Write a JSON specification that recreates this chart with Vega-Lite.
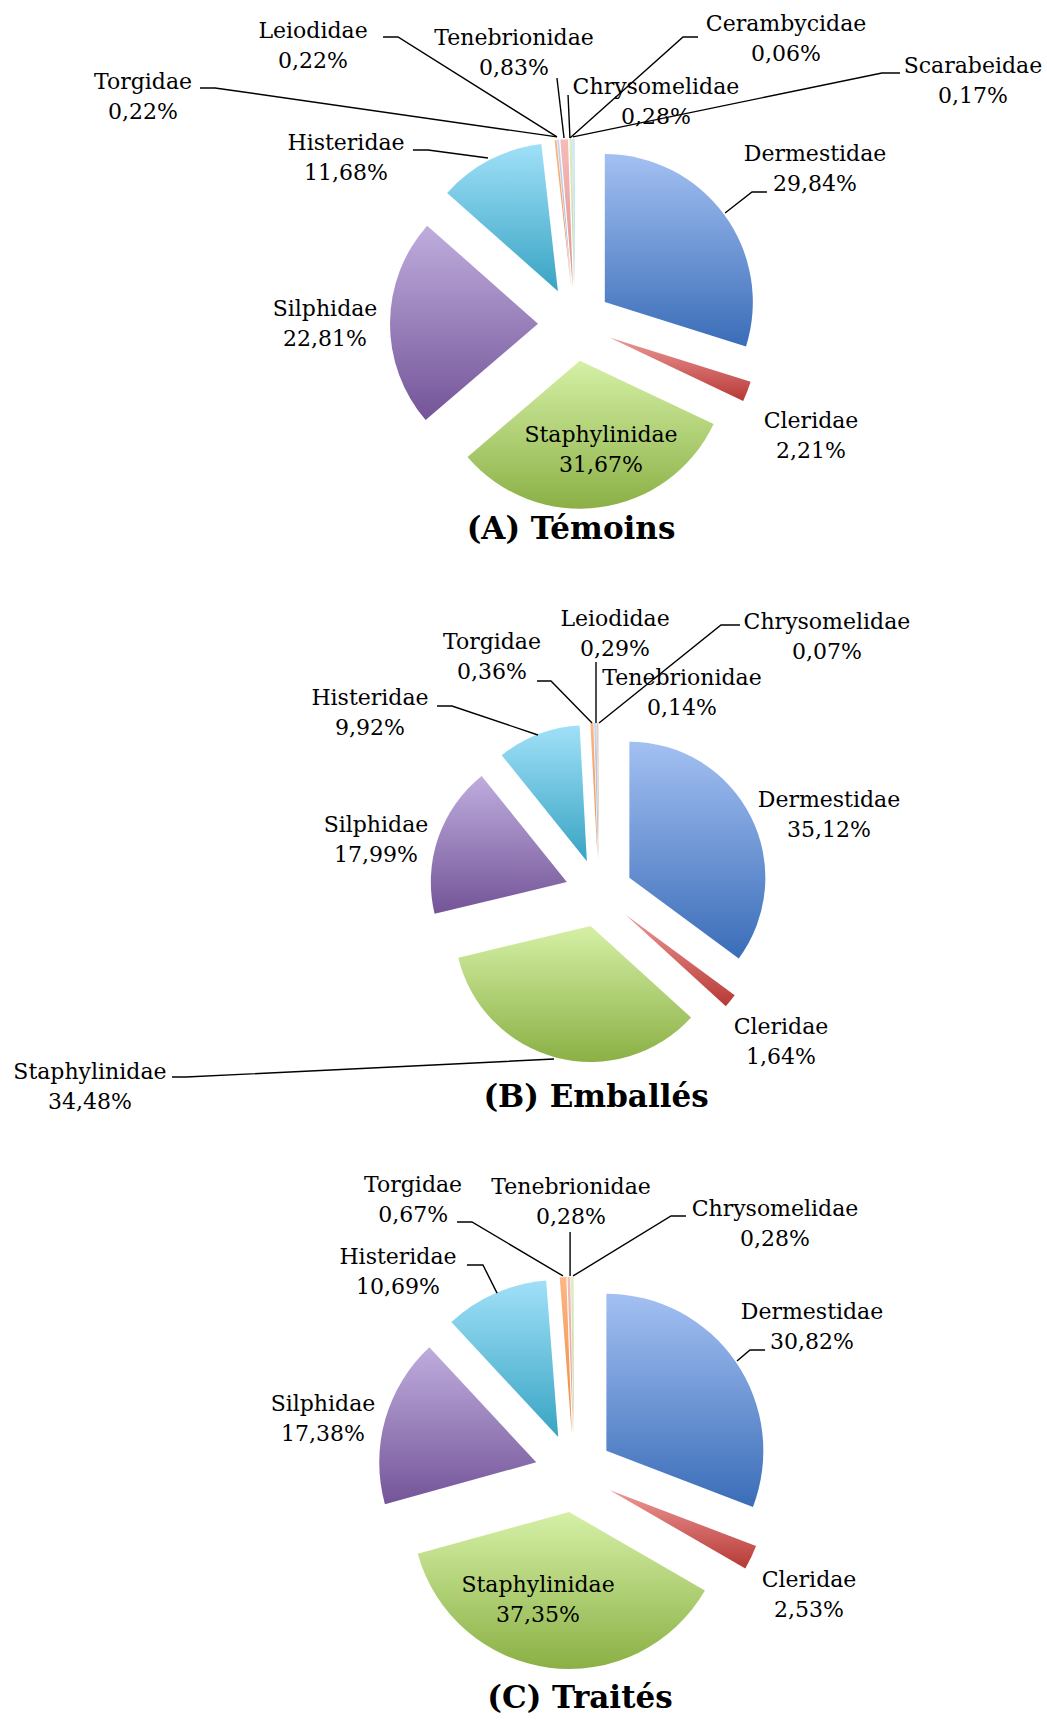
{
  "$schema": "https://vega.github.io/schema/vega-lite/v6.json",
  "background": "white",
  "padding": 0,
  "spacing": 0,
  "config": {
    "view": {"stroke": null},
    "locale": {"number": {"decimal": ",", "thousands": " ", "grouping": [3], "currency": ["", " €"]}},
    "text": {"font": "DejaVu Serif", "fontSize": 22, "color": "#000000"}
  },
  "resolve": {"scale": {"x": "independent", "y": "independent"}},
  "datasets": {
    "temoins": [
      {"family": "Dermestidae", "share": 0.2984},
      {"family": "Cleridae", "share": 0.0221},
      {"family": "Staphylinidae", "share": 0.3167},
      {"family": "Silphidae", "share": 0.2281},
      {"family": "Histeridae", "share": 0.1168},
      {"family": "Torgidae", "share": 0.0022},
      {"family": "Leiodidae", "share": 0.0022},
      {"family": "Tenebrionidae", "share": 0.0083},
      {"family": "Chrysomelidae", "share": 0.0028},
      {"family": "Cerambycidae", "share": 0.0006},
      {"family": "Scarabeidae", "share": 0.0017}
    ],
    "emballes": [
      {"family": "Dermestidae", "share": 0.3512},
      {"family": "Cleridae", "share": 0.0164},
      {"family": "Staphylinidae", "share": 0.3448},
      {"family": "Silphidae", "share": 0.1799},
      {"family": "Histeridae", "share": 0.0992},
      {"family": "Torgidae", "share": 0.0036},
      {"family": "Leiodidae", "share": 0.0029},
      {"family": "Tenebrionidae", "share": 0.0014},
      {"family": "Chrysomelidae", "share": 0.0007}
    ],
    "traites": [
      {"family": "Dermestidae", "share": 0.3082},
      {"family": "Cleridae", "share": 0.0253},
      {"family": "Staphylinidae", "share": 0.3735},
      {"family": "Silphidae", "share": 0.1738},
      {"family": "Histeridae", "share": 0.1069},
      {"family": "Torgidae", "share": 0.0067},
      {"family": "Tenebrionidae", "share": 0.0028},
      {"family": "Chrysomelidae", "share": 0.0028}
    ],
    "labelsA": [
      {"family": "Torgidae", "px": -2.919, "py": 1.534},
      {"family": "Leiodidae", "px": -1.770, "py": 1.878},
      {"family": "Tenebrionidae", "px": -0.412, "py": 1.828},
      {"family": "Chrysomelidae", "px": 0.547, "py": 1.500},
      {"family": "Cerambycidae", "px": 1.426, "py": 1.929},
      {"family": "Scarabeidae", "px": 2.689, "py": 1.639},
      {"family": "Histeridae", "px": -1.547, "py": 1.122},
      {"family": "Dermestidae", "px": 1.622, "py": 1.047},
      {"family": "Silphidae", "px": -1.689, "py": 0.000},
      {"family": "Staphylinidae", "px": 0.176, "py": -0.851},
      {"family": "Cleridae", "px": 1.595, "py": -0.757}
    ],
    "leadersA": [
      {"family": "Torgidae", "step": 0, "px": -2.534, "py": 1.595},
      {"family": "Torgidae", "step": 1, "px": -2.432, "py": 1.595},
      {"family": "Torgidae", "step": 2, "px": -0.122, "py": 1.264},
      {"family": "Leiodidae", "step": 0, "px": -1.297, "py": 1.939},
      {"family": "Leiodidae", "step": 1, "px": -1.196, "py": 1.939},
      {"family": "Leiodidae", "step": 2, "px": -0.122, "py": 1.264},
      {"family": "Tenebrionidae", "step": 0, "px": -0.122, "py": 1.662},
      {"family": "Tenebrionidae", "step": 1, "px": -0.074, "py": 1.257},
      {"family": "Chrysomelidae", "step": 0, "px": -0.047, "py": 1.547},
      {"family": "Chrysomelidae", "step": 1, "px": -0.034, "py": 1.257},
      {"family": "Cerambycidae", "step": 0, "px": 0.831, "py": 1.939},
      {"family": "Cerambycidae", "step": 1, "px": 0.730, "py": 1.939},
      {"family": "Cerambycidae", "step": 2, "px": -0.034, "py": 1.257},
      {"family": "Scarabeidae", "step": 0, "px": 2.196, "py": 1.696},
      {"family": "Scarabeidae", "step": 1, "px": 2.074, "py": 1.696},
      {"family": "Scarabeidae", "step": 2, "px": -0.014, "py": 1.264},
      {"family": "Histeridae", "step": 0, "px": -1.095, "py": 1.176},
      {"family": "Histeridae", "step": 1, "px": -0.993, "py": 1.176},
      {"family": "Histeridae", "step": 2, "px": -0.588, "py": 1.122},
      {"family": "Dermestidae", "step": 0, "px": 1.297, "py": 0.892},
      {"family": "Dermestidae", "step": 1, "px": 1.196, "py": 0.892},
      {"family": "Dermestidae", "step": 2, "px": 1.014, "py": 0.750}
    ],
    "labelsB": [
      {"family": "Leiodidae", "px": 0.118, "py": 1.908},
      {"family": "Chrysomelidae", "px": 1.676, "py": 1.886},
      {"family": "Torgidae", "px": -0.787, "py": 1.732},
      {"family": "Tenebrionidae", "px": 0.610, "py": 1.474},
      {"family": "Histeridae", "px": -1.684, "py": 1.320},
      {"family": "Silphidae", "px": -1.640, "py": 0.393},
      {"family": "Dermestidae", "px": 1.691, "py": 0.570},
      {"family": "Cleridae", "px": 1.338, "py": -1.092},
      {"family": "Staphylinidae", "px": -3.743, "py": -1.430}
    ],
    "leadersB": [
      {"family": "Torgidae", "step": 0, "px": -0.456, "py": 1.559},
      {"family": "Torgidae", "step": 1, "px": -0.353, "py": 1.559},
      {"family": "Torgidae", "step": 2, "px": -0.051, "py": 1.250},
      {"family": "Leiodidae", "step": 0, "px": -0.022, "py": 1.699},
      {"family": "Leiodidae", "step": 1, "px": -0.022, "py": 1.250},
      {"family": "Chrysomelidae", "step": 0, "px": 1.037, "py": 1.971},
      {"family": "Chrysomelidae", "step": 1, "px": 0.897, "py": 1.971},
      {"family": "Chrysomelidae", "step": 2, "px": 0.000, "py": 1.250},
      {"family": "Histeridae", "step": 0, "px": -1.191, "py": 1.375},
      {"family": "Histeridae", "step": 1, "px": -1.081, "py": 1.375},
      {"family": "Histeridae", "step": 2, "px": -0.449, "py": 1.162},
      {"family": "Staphylinidae", "step": 0, "px": -3.140, "py": -1.353},
      {"family": "Staphylinidae", "step": 1, "px": -3.037, "py": -1.353},
      {"family": "Staphylinidae", "step": 2, "px": -0.331, "py": -1.221}
    ],
    "labelsC": [
      {"family": "Torgidae", "px": -1.025, "py": 1.739},
      {"family": "Tenebrionidae", "px": -0.019, "py": 1.726},
      {"family": "Chrysomelidae", "px": 1.280, "py": 1.589},
      {"family": "Histeridae", "px": -1.121, "py": 1.283},
      {"family": "Dermestidae", "px": 1.516, "py": 0.927},
      {"family": "Silphidae", "px": -1.599, "py": 0.347},
      {"family": "Staphylinidae", "px": -0.229, "py": -0.812},
      {"family": "Cleridae", "px": 1.497, "py": -0.777}
    ],
    "leadersC": [
      {"family": "Torgidae", "step": 0, "px": -0.745, "py": 1.599},
      {"family": "Torgidae", "step": 1, "px": -0.650, "py": 1.599},
      {"family": "Torgidae", "step": 2, "px": -0.070, "py": 1.255},
      {"family": "Tenebrionidae", "step": 0, "px": -0.025, "py": 1.535},
      {"family": "Tenebrionidae", "step": 1, "px": -0.025, "py": 1.255},
      {"family": "Chrysomelidae", "step": 0, "px": 0.713, "py": 1.637},
      {"family": "Chrysomelidae", "step": 1, "px": 0.618, "py": 1.637},
      {"family": "Chrysomelidae", "step": 2, "px": -0.006, "py": 1.255},
      {"family": "Histeridae", "step": 0, "px": -0.682, "py": 1.325},
      {"family": "Histeridae", "step": 1, "px": -0.580, "py": 1.325},
      {"family": "Histeridae", "step": 2, "px": -0.490, "py": 1.146},
      {"family": "Dermestidae", "step": 0, "px": 1.217, "py": 0.783},
      {"family": "Dermestidae", "step": 1, "px": 1.121, "py": 0.783},
      {"family": "Dermestidae", "step": 2, "px": 1.038, "py": 0.713}
    ],
    "panelTitles": [
      {"panel": "(A) Témoins", "group": "A", "px": -0.027, "py": -1.392},
      {"panel": "(B) Emballés", "group": "B", "px": -0.022, "py": -1.507},
      {"panel": "(C) Traités", "group": "C", "px": 0.038, "py": -1.439}
    ]
  },
  "vconcat": [
    {
      "width": 1047,
      "height": 565,
      "encoding": {
        "x": {"field": "px", "type": "quantitative", "axis": null, "scale": {"domain": [-3.8851, 3.1892], "nice": false, "zero": false}},
        "y": {"field": "py", "type": "quantitative", "axis": null, "scale": {"domain": [-1.6284, 2.1892], "nice": false, "zero": false}}
      },
      "layer": [
        {
          "data": {"name": "temoins"},
          "transform": [
            {"stack": "share", "groupby": [], "as": ["t0", "t1"]},
            {"calculate": "(datum.t0 + datum.t1) * PI", "as": "mid"},
            {"calculate": "0.25 * sin(datum.mid)", "as": "px"},
            {"calculate": "0.25 * cos(datum.mid)", "as": "py"}
          ],
          "mark": {"type": "arc", "radius": 148},
          "encoding": {
            "theta": {"field": "t0", "type": "quantitative", "scale": {"domain": [0, 1], "range": [0, 6.283185307179586]}},
            "theta2": {"field": "t1"},
            "fill": {
              "condition": [
                {"test": "datum.family === 'Dermestidae'", "value": {"gradient": "linear", "x1": 0, "y1": 0, "x2": 0, "y2": 1, "stops": [{"offset": 0, "color": "#a3c0f2"}, {"offset": 1, "color": "#3a6db8"}]}},
                {"test": "datum.family === 'Cleridae'", "value": {"gradient": "linear", "x1": 0, "y1": 0, "x2": 0, "y2": 1, "stops": [{"offset": 0, "color": "#ec9896"}, {"offset": 1, "color": "#b73936"}]}},
                {"test": "datum.family === 'Staphylinidae'", "value": {"gradient": "linear", "x1": 0, "y1": 0, "x2": 0, "y2": 1, "stops": [{"offset": 0, "color": "#d5f0a6"}, {"offset": 1, "color": "#8bb045"}]}},
                {"test": "datum.family === 'Silphidae'", "value": {"gradient": "linear", "x1": 0, "y1": 0, "x2": 0, "y2": 1, "stops": [{"offset": 0, "color": "#bfaddd"}, {"offset": 1, "color": "#735498"}]}},
                {"test": "datum.family === 'Histeridae'", "value": {"gradient": "linear", "x1": 0, "y1": 0, "x2": 0, "y2": 1, "stops": [{"offset": 0, "color": "#a0e0f8"}, {"offset": 1, "color": "#38a4c3"}]}},
                {"test": "datum.family === 'Torgidae'", "value": {"gradient": "linear", "x1": 0, "y1": 0, "x2": 0, "y2": 1, "stops": [{"offset": 0, "color": "#fbb885"}, {"offset": 1, "color": "#ee873a"}]}},
                {"test": "datum.family === 'Leiodidae'", "value": {"gradient": "linear", "x1": 0, "y1": 0, "x2": 0, "y2": 1, "stops": [{"offset": 0, "color": "#c8d8f4"}, {"offset": 1, "color": "#8ba7da"}]}},
                {"test": "datum.family === 'Tenebrionidae'", "value": {"gradient": "linear", "x1": 0, "y1": 0, "x2": 0, "y2": 1, "stops": [{"offset": 0, "color": "#f5bcba"}, {"offset": 1, "color": "#e08f8c"}]}},
                {"test": "datum.family === 'Chrysomelidae'", "value": {"gradient": "linear", "x1": 0, "y1": 0, "x2": 0, "y2": 1, "stops": [{"offset": 0, "color": "#def0c4"}, {"offset": 1, "color": "#b3ce88"}]}},
                {"test": "datum.family === 'Cerambycidae'", "value": {"gradient": "linear", "x1": 0, "y1": 0, "x2": 0, "y2": 1, "stops": [{"offset": 0, "color": "#d2c8e6"}, {"offset": 1, "color": "#a794c6"}]}}
              ],
              "value": {"gradient": "linear", "x1": 0, "y1": 0, "x2": 0, "y2": 1, "stops": [{"offset": 0, "color": "#c4e9f6"}, {"offset": 1, "color": "#84c9df"}]}
            }
          }
        },
        {
          "data": {"name": "leadersA"},
          "mark": {"type": "line", "stroke": "#000000", "strokeWidth": 1.4},
          "encoding": {"detail": {"field": "family", "type": "nominal"}, "order": {"field": "step", "type": "ordinal"}}
        },
        {
          "data": {"name": "labelsA"},
          "transform": [{"lookup": "family", "from": {"data": {"name": "temoins"}, "key": "family", "fields": ["share"]}}],
          "mark": {"type": "text", "dy": -15},
          "encoding": {"text": {"field": "family", "type": "nominal"}}
        },
        {
          "data": {"name": "labelsA"},
          "transform": [{"lookup": "family", "from": {"data": {"name": "temoins"}, "key": "family", "fields": ["share"]}}],
          "mark": {"type": "text", "dy": 15},
          "encoding": {"text": {"field": "share", "type": "quantitative", "format": ".2%"}}
        },
        {
          "data": {"name": "panelTitles"},
          "transform": [{"filter": "datum.group === 'A'"}],
          "mark": {"type": "text", "fontSize": 31, "fontWeight": "bold"},
          "encoding": {"text": {"field": "panel", "type": "nominal"}}
        }
      ]
    },
    {
      "width": 1047,
      "height": 575,
      "encoding": {
        "x": {"field": "px", "type": "quantitative", "axis": null, "scale": {"domain": [-4.4044, 3.2941], "nice": false, "zero": false}},
        "y": {"field": "py", "type": "quantitative", "axis": null, "scale": {"domain": [-1.8162, 2.4118], "nice": false, "zero": false}}
      },
      "layer": [
        {
          "data": {"name": "emballes"},
          "transform": [
            {"stack": "share", "groupby": [], "as": ["t0", "t1"]},
            {"calculate": "(datum.t0 + datum.t1) * PI", "as": "mid"},
            {"calculate": "0.25 * sin(datum.mid)", "as": "px"},
            {"calculate": "0.25 * cos(datum.mid)", "as": "py"}
          ],
          "mark": {"type": "arc", "radius": 136},
          "encoding": {
            "theta": {"field": "t0", "type": "quantitative", "scale": {"domain": [0, 1], "range": [0, 6.283185307179586]}},
            "theta2": {"field": "t1"},
            "fill": {
              "condition": [
                {"test": "datum.family === 'Dermestidae'", "value": {"gradient": "linear", "x1": 0, "y1": 0, "x2": 0, "y2": 1, "stops": [{"offset": 0, "color": "#a3c0f2"}, {"offset": 1, "color": "#3a6db8"}]}},
                {"test": "datum.family === 'Cleridae'", "value": {"gradient": "linear", "x1": 0, "y1": 0, "x2": 0, "y2": 1, "stops": [{"offset": 0, "color": "#ec9896"}, {"offset": 1, "color": "#b73936"}]}},
                {"test": "datum.family === 'Staphylinidae'", "value": {"gradient": "linear", "x1": 0, "y1": 0, "x2": 0, "y2": 1, "stops": [{"offset": 0, "color": "#d5f0a6"}, {"offset": 1, "color": "#8bb045"}]}},
                {"test": "datum.family === 'Silphidae'", "value": {"gradient": "linear", "x1": 0, "y1": 0, "x2": 0, "y2": 1, "stops": [{"offset": 0, "color": "#bfaddd"}, {"offset": 1, "color": "#735498"}]}},
                {"test": "datum.family === 'Histeridae'", "value": {"gradient": "linear", "x1": 0, "y1": 0, "x2": 0, "y2": 1, "stops": [{"offset": 0, "color": "#a0e0f8"}, {"offset": 1, "color": "#38a4c3"}]}},
                {"test": "datum.family === 'Torgidae'", "value": {"gradient": "linear", "x1": 0, "y1": 0, "x2": 0, "y2": 1, "stops": [{"offset": 0, "color": "#fbb885"}, {"offset": 1, "color": "#ee873a"}]}},
                {"test": "datum.family === 'Leiodidae'", "value": {"gradient": "linear", "x1": 0, "y1": 0, "x2": 0, "y2": 1, "stops": [{"offset": 0, "color": "#c8d8f4"}, {"offset": 1, "color": "#8ba7da"}]}},
                {"test": "datum.family === 'Tenebrionidae'", "value": {"gradient": "linear", "x1": 0, "y1": 0, "x2": 0, "y2": 1, "stops": [{"offset": 0, "color": "#f5bcba"}, {"offset": 1, "color": "#e08f8c"}]}}
              ],
              "value": {"gradient": "linear", "x1": 0, "y1": 0, "x2": 0, "y2": 1, "stops": [{"offset": 0, "color": "#def0c4"}, {"offset": 1, "color": "#b3ce88"}]}
            }
          }
        },
        {
          "data": {"name": "leadersB"},
          "mark": {"type": "line", "stroke": "#000000", "strokeWidth": 1.4},
          "encoding": {"detail": {"field": "family", "type": "nominal"}, "order": {"field": "step", "type": "ordinal"}}
        },
        {
          "data": {"name": "labelsB"},
          "transform": [{"lookup": "family", "from": {"data": {"name": "emballes"}, "key": "family", "fields": ["share"]}}],
          "mark": {"type": "text", "dy": -15},
          "encoding": {"text": {"field": "family", "type": "nominal"}}
        },
        {
          "data": {"name": "labelsB"},
          "transform": [{"lookup": "family", "from": {"data": {"name": "emballes"}, "key": "family", "fields": ["share"]}}],
          "mark": {"type": "text", "dy": 15},
          "encoding": {"text": {"field": "share", "type": "quantitative", "format": ".2%"}}
        },
        {
          "data": {"name": "panelTitles"},
          "transform": [{"filter": "datum.group === 'B'"}],
          "mark": {"type": "text", "fontSize": 31, "fontWeight": "bold"},
          "encoding": {"text": {"field": "panel", "type": "nominal"}}
        }
      ]
    },
    {
      "width": 1047,
      "height": 580,
      "encoding": {
        "x": {"field": "px", "type": "quantitative", "axis": null, "scale": {"domain": [-3.6561, 3.0127], "nice": false, "zero": false}},
        "y": {"field": "py", "type": "quantitative", "axis": null, "scale": {"domain": [-1.5732, 2.1210], "nice": false, "zero": false}}
      },
      "layer": [
        {
          "data": {"name": "traites"},
          "transform": [
            {"stack": "share", "groupby": [], "as": ["t0", "t1"]},
            {"calculate": "(datum.t0 + datum.t1) * PI", "as": "mid"},
            {"calculate": "0.25 * sin(datum.mid)", "as": "px"},
            {"calculate": "0.25 * cos(datum.mid)", "as": "py"}
          ],
          "mark": {"type": "arc", "radius": 157},
          "encoding": {
            "theta": {"field": "t0", "type": "quantitative", "scale": {"domain": [0, 1], "range": [0, 6.283185307179586]}},
            "theta2": {"field": "t1"},
            "fill": {
              "condition": [
                {"test": "datum.family === 'Dermestidae'", "value": {"gradient": "linear", "x1": 0, "y1": 0, "x2": 0, "y2": 1, "stops": [{"offset": 0, "color": "#a3c0f2"}, {"offset": 1, "color": "#3a6db8"}]}},
                {"test": "datum.family === 'Cleridae'", "value": {"gradient": "linear", "x1": 0, "y1": 0, "x2": 0, "y2": 1, "stops": [{"offset": 0, "color": "#ec9896"}, {"offset": 1, "color": "#b73936"}]}},
                {"test": "datum.family === 'Staphylinidae'", "value": {"gradient": "linear", "x1": 0, "y1": 0, "x2": 0, "y2": 1, "stops": [{"offset": 0, "color": "#d5f0a6"}, {"offset": 1, "color": "#8bb045"}]}},
                {"test": "datum.family === 'Silphidae'", "value": {"gradient": "linear", "x1": 0, "y1": 0, "x2": 0, "y2": 1, "stops": [{"offset": 0, "color": "#bfaddd"}, {"offset": 1, "color": "#735498"}]}},
                {"test": "datum.family === 'Histeridae'", "value": {"gradient": "linear", "x1": 0, "y1": 0, "x2": 0, "y2": 1, "stops": [{"offset": 0, "color": "#a0e0f8"}, {"offset": 1, "color": "#38a4c3"}]}},
                {"test": "datum.family === 'Torgidae'", "value": {"gradient": "linear", "x1": 0, "y1": 0, "x2": 0, "y2": 1, "stops": [{"offset": 0, "color": "#fbb885"}, {"offset": 1, "color": "#ee873a"}]}},
                {"test": "datum.family === 'Tenebrionidae'", "value": {"gradient": "linear", "x1": 0, "y1": 0, "x2": 0, "y2": 1, "stops": [{"offset": 0, "color": "#f5bcba"}, {"offset": 1, "color": "#e08f8c"}]}}
              ],
              "value": {"gradient": "linear", "x1": 0, "y1": 0, "x2": 0, "y2": 1, "stops": [{"offset": 0, "color": "#def0c4"}, {"offset": 1, "color": "#b3ce88"}]}
            }
          }
        },
        {
          "data": {"name": "leadersC"},
          "mark": {"type": "line", "stroke": "#000000", "strokeWidth": 1.4},
          "encoding": {"detail": {"field": "family", "type": "nominal"}, "order": {"field": "step", "type": "ordinal"}}
        },
        {
          "data": {"name": "labelsC"},
          "transform": [{"lookup": "family", "from": {"data": {"name": "traites"}, "key": "family", "fields": ["share"]}}],
          "mark": {"type": "text", "dy": -15},
          "encoding": {"text": {"field": "family", "type": "nominal"}}
        },
        {
          "data": {"name": "labelsC"},
          "transform": [{"lookup": "family", "from": {"data": {"name": "traites"}, "key": "family", "fields": ["share"]}}],
          "mark": {"type": "text", "dy": 15},
          "encoding": {"text": {"field": "share", "type": "quantitative", "format": ".2%"}}
        },
        {
          "data": {"name": "panelTitles"},
          "transform": [{"filter": "datum.group === 'C'"}],
          "mark": {"type": "text", "fontSize": 31, "fontWeight": "bold"},
          "encoding": {"text": {"field": "panel", "type": "nominal"}}
        }
      ]
    }
  ]
}
